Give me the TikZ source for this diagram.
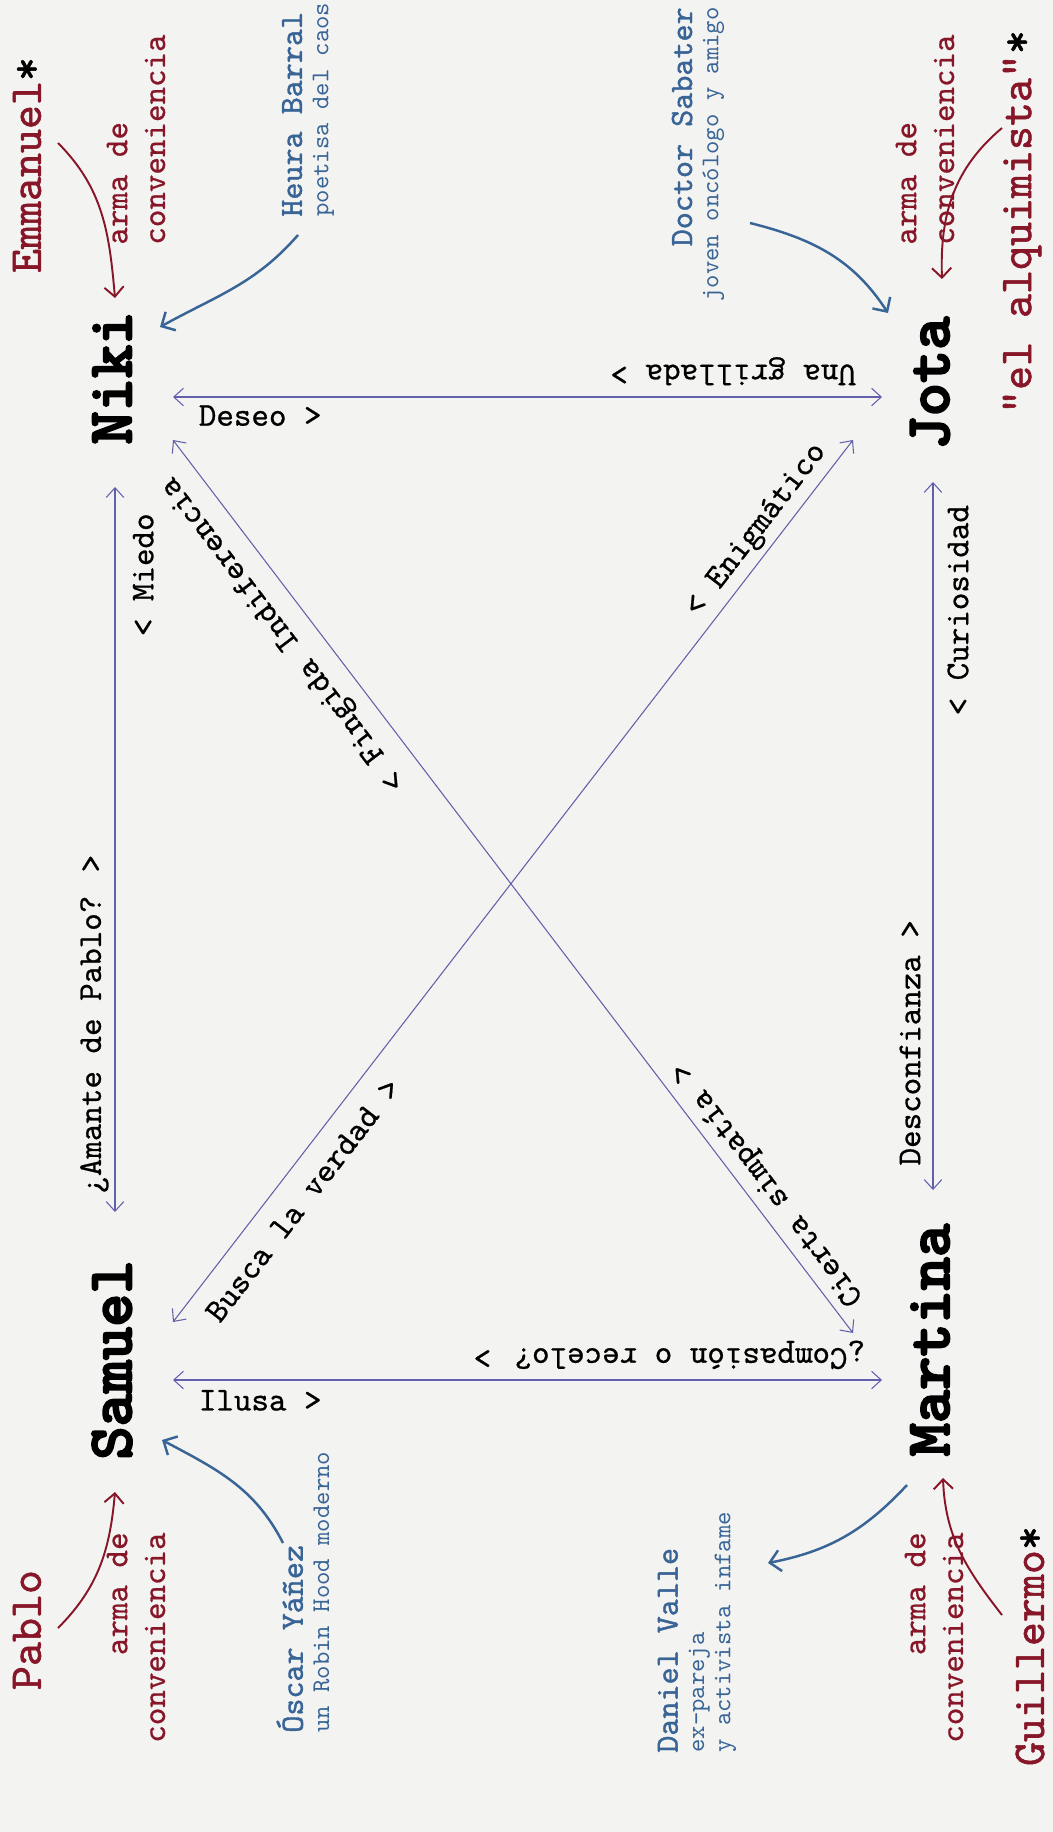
\documentclass[tikz,border=0pt]{standalone}
\usepackage{fontspec}
\usetikzlibrary{arrows.meta}
\newfontfamily\typefont{lmmono10-regular.otf}
\newfontfamily\inkfont{lmmono10-regular.otf}[FakeBold=0.7]
\newfontfamily\midfont{lmmono10-regular.otf}[FakeBold=1.2]
\newfontfamily\heavyfont{lmmonolt10-bold.otf}[FakeBold=3]
\definecolor{paper}{RGB}{243,243,242}
\definecolor{linkc}{RGB}{98,96,170}
\definecolor{steel}{RGB}{56,100,150}
\definecolor{wine}{RGB}{135,22,40}
\newcommand{\allynote}[1]{{\typefont\fontsize{14.5}{15}\selectfont #1}}
\begin{document}
\begin{tikzpicture}[x=0.02cm,y=-0.02cm,
  every node/.style={inner sep=0pt},
  person/.style={font=\heavyfont\fontsize{36}{40}\selectfont,rotate=90},
  rival/.style={font=\midfont\fontsize{26}{28}\selectfont,text=wine,rotate=90},
  weapon/.style={font=\inkfont\fontsize{19}{21.5}\selectfont,text=wine,rotate=90},
  ally/.style={font=\midfont\fontsize{18.5}{15}\selectfont,text=steel,rotate=90},
  rel/.style={draw=linkc,line width=0.6pt,{Straight Barb[length=5.5pt,width=10pt]}-{Straight Barb[length=5.5pt,width=10pt]}},
  feel/.style={font=\inkfont\fontsize{19}{21}\selectfont,sloped,allow upside down},
  push/.style={draw=wine,line width=1.1pt,-{Straight Barb[length=5.5pt,width=11pt]}},
  hint/.style={draw=steel,line width=1.4pt,-{Straight Barb[length=6pt,width=12pt]}}]
  \fill[paper] (0,0) rectangle (1053,1832);
  % the four characters
  \node[person] (niki) at (112,378) {Niki};
  \node[person] (jota) at (930,383) {Jota};
  \node[person] (samuel) at (112,1360) {Samuel};
  \node[person] (martina) at (930,1340) {Martina};
  % arrow ends round them
  \coordinate (nikiE) at (173,397); \coordinate (nikiS) at (115,487); \coordinate (nikiD) at (173,440);
  \coordinate (jotaW) at (882,397); \coordinate (jotaS) at (933,482); \coordinate (jotaD) at (853,440);
  \coordinate (samE) at (173,1380); \coordinate (samN) at (115,1212); \coordinate (samD) at (173,1322);
  \coordinate (martW) at (882,1380); \coordinate (martN) at (933,1190); \coordinate (martD) at (853,1333);
  \draw[rel] (nikiE) -- (jotaW);
  \draw[rel] (nikiS) -- (samN);
  \draw[rel] (jotaS) -- (martN);
  \draw[rel] (samE) -- (martW);
  \draw[rel] (nikiD) -- (martD);
  \draw[rel] (samD) -- (jotaD);
  % what each one feels
  \path (nikiE) -- (jotaW) node[feel,pos=.123,below=4.5pt] {Deseo >};
  \path (jotaW) -- (nikiE) node[feel,pos=.21,below=6.5pt] {Una grillada >};
  \path (samN) -- (nikiS) node[feel,pos=.879,below=10pt] {< Miedo}
                          node[feel,pos=.259,above=3.5pt] {¿Amante de Pablo? >};
  \path (martN) -- (jotaS) node[feel,pos=.819,below=8pt] {< Curiosidad}
                           node[feel,pos=.208,above=7pt] {Desconfianza >};
  \path (samE) -- (martW) node[feel,pos=.123,below=5.5pt] {Ilusa >};
  \path (martW) -- (samE) node[feel,pos=.30,below=6pt] {¿Compasión o recelo? >};
  \path (martD) -- (nikiD) node[feel,pos=.803,above=8pt] {< Fingida Indiferencia}
                           node[feel,pos=.152,below=5pt] {Cierta simpatía >};
  \path (samD) -- (jotaD) node[feel,pos=.883,above=3.5pt] {< Enigmático}
                          node[feel,pos=.158,below=10pt] {Busca la verdad >};
  % convenient weapons
  \node[rival] (emmanuel) at (27,165) {Emmanuel\textcolor{black}{*}};
  \node[rival] (alquimista) at (1022,222) {"el alquimista"\textcolor{black}{*}};
  \node[rival] (pablo) at (27,1630) {Pablo};
  \node[rival] (guillermo) at (1030,1646) {Guillermo\textcolor{black}{*}};
  \node[weapon,align=left,anchor=west] (armaNiki) at (136,245) {arma de\\conveniencia};
  \node[weapon,align=left,anchor=west] (armaJota) at (925,245) {arma de\\conveniencia};
  \node[weapon,align=right,anchor=east] (armaSam) at (136,1532) {arma de\\conveniencia};
  \node[weapon,align=right,anchor=east] (armaMart) at (934,1532) {arma de\\conveniencia};
  \coordinate (emmOut) at (58,143);     \coordinate (emmIn) at (115,298);
  \coordinate (alqOut) at (1002,128);   \coordinate (alqIn) at (942,279);
  \coordinate (pabloOut) at (58,1628);  \coordinate (pabloIn) at (115,1492);
  \coordinate (guiOut) at (1002,1615);  \coordinate (guiIn) at (943,1478);
  \draw[push] (emmOut) to[out=-45,in=95] (emmIn);
  \draw[push] (alqOut) to[out=-140,in=92] (alqIn);
  \draw[push] (pabloOut) to[out=45,in=-95] (pabloIn);
  \draw[push] (guiOut) to[out=128,in=-88] (guiIn);
  % side characters
  \node[ally,align=left,anchor=west] (heura) at (308,217) {Heura Barral\\\allynote{poetisa del caos}};
  \node[ally,align=right,anchor=east] (doctor) at (698,7) {Doctor Sabater\\\allynote{joven oncólogo y amigo}};
  \node[ally,align=left,anchor=west] (oscar) at (303,1733) {Óscar Yáñez\\\allynote{un Robin Hood moderno}};
  \node[ally,align=left,anchor=west] (daniel) at (697,1753) {Daniel Valle\\\allynote{ex-pareja}\\\allynote{y activista infame}};
  \coordinate (heuraOut) at (298,235);   \coordinate (heuraIn) at (160,327);
  \coordinate (docOut) at (750,223);     \coordinate (docIn) at (888,313);
  \coordinate (oscarOut) at (283,1543);  \coordinate (oscarIn) at (162,1440);
  \coordinate (danielOut) at (907,1485); \coordinate (danielIn) at (768,1563);
  \draw[hint] (heuraOut) to[out=-131,in=29] (heuraIn);
  \draw[hint] (docOut) to[out=-14,in=123] (docIn);
  \draw[hint] (oscarOut) to[out=117,in=-28] (oscarIn);
  \draw[hint] (danielOut) to[out=-133,in=11] (danielIn);
\end{tikzpicture}
\end{document}
